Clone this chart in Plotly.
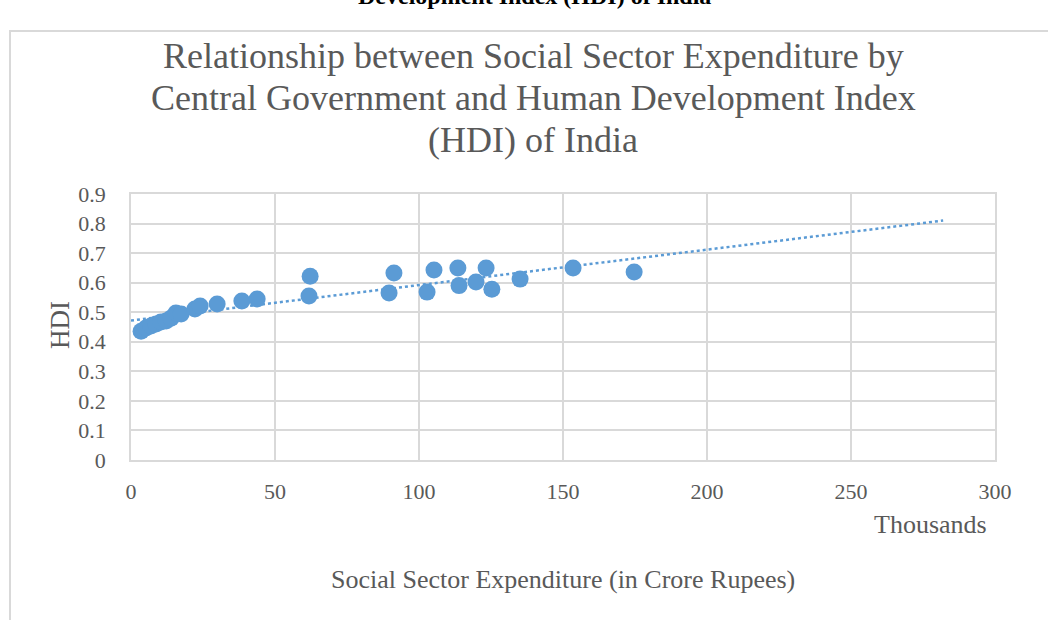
import numpy as np
import plotly.graph_objects as go

# Social sector expenditure (thousand crore rupees) and HDI
expenditure = [3.5, 5.2, 6.9, 8.7, 10.4, 12.2, 13.9, 15.6, 17.4, 22.2, 24.0, 29.9,
               38.5, 43.8, 61.8, 62.2, 89.6, 91.3, 102.8, 105.2, 113.5, 113.9,
               119.8, 123.3, 125.3, 135.1, 153.5, 174.7]
hdi = [0.436, 0.447, 0.453, 0.460, 0.467, 0.470, 0.480, 0.497, 0.494, 0.511, 0.521, 0.528,
       0.538, 0.545, 0.555, 0.622, 0.565, 0.633, 0.568, 0.643, 0.650, 0.590,
       0.602, 0.650, 0.578, 0.612, 0.650, 0.636]
trend_range = [0, 282]
y_ticks = [0, 0.1, 0.2, 0.3, 0.4, 0.5, 0.6, 0.7, 0.8, 0.9]
y_tick_labels = ["0", "0.1", "0.2", "0.3", "0.4", "0.5", "0.6", "0.7", "0.8", "0.9"]
x_ticks = [0, 50, 100, 150, 200, 250, 300]
title_lines = ["Relationship between Social Sector Expenditure by",
               "Central Government and Human Development Index",
               "(HDI) of India"]

slope, intercept = np.polyfit(expenditure, hdi, 1)
trend_x = np.linspace(trend_range[0], trend_range[1], 50)
trend_y = intercept + slope * trend_x

BLUE = "#5b9bd5"
GREY = "#595959"
GRID = "#d9d9d9"
FONT = "Liberation Serif"

fig = go.Figure()
fig.add_trace(go.Scatter(x=trend_x, y=trend_y, mode="lines",
                         line=dict(color=BLUE, width=2.5, dash="dot"),
                         hoverinfo="skip", showlegend=False))
fig.add_trace(go.Scatter(x=expenditure, y=hdi, mode="markers",
                         marker=dict(color=BLUE, size=17, line=dict(width=0)),
                         showlegend=False))

L, R, T, B = 131, 995, 194, 460
W, H = 1048, 620

def px(x):
    return (x - L) / (R - L)

def py(y):
    return (B - y) / (B - T)

annotations = [
    dict(text="<b>Development Index (HDI) of India</b>", xref="paper", yref="paper",
         x=px(534), y=py(11), xanchor="center", yanchor="bottom", showarrow=False,
         font=dict(size=24, color="black", family=FONT)),
    dict(text="HDI", xref="paper", yref="paper", x=px(60), y=py(325), textangle=-90,
         xanchor="center", yanchor="middle", showarrow=False,
         font=dict(size=27, color=GREY, family=FONT)),
    dict(text="Thousands", xref="paper", yref="paper", x=px(930), y=py(524),
         xanchor="center", yanchor="middle", showarrow=False,
         font=dict(size=26, color=GREY, family=FONT)),
    dict(text="Social Sector Expenditure (in Crore Rupees)", xref="paper", yref="paper",
         x=px(563), y=py(579), xanchor="center", yanchor="middle", showarrow=False,
         font=dict(size=26, color=GREY, family=FONT)),
]
for line_text, yc in zip(title_lines, [56, 98, 140]):
    annotations.append(dict(text=line_text, xref="paper", yref="paper", x=px(533), y=py(yc),
                            xanchor="center", yanchor="middle", showarrow=False,
                            font=dict(size=36, color=GREY, family=FONT)))

fig.update_layout(
    width=W, height=H,
    margin=dict(l=L, r=W - R, t=T, b=H - B),
    paper_bgcolor="white", plot_bgcolor="white",
    font=dict(family=FONT, color=GREY),
    xaxis=dict(range=[0, 300], tickvals=x_ticks, showgrid=True, gridcolor=GRID, gridwidth=1.5,
               showline=True, linecolor=GRID, linewidth=1.5, mirror=True, zeroline=False,
               tickfont=dict(size=22, color=GREY, family=FONT), ticks="", ticklabelstandoff=11),
    yaxis=dict(range=[0, 0.9], tickvals=y_ticks, ticktext=y_tick_labels, showgrid=True,
               gridcolor=GRID, gridwidth=1.5, showline=True, linecolor=GRID, linewidth=1.5,
               mirror=True, zeroline=False,
               tickfont=dict(size=22, color=GREY, family=FONT), ticks="", ticklabelstandoff=19),
    shapes=[dict(type="rect", xref="paper", yref="paper",
                 x0=px(10), x1=px(1060), y0=py(640), y1=py(31),
                 line=dict(color=GRID, width=2), fillcolor="rgba(0,0,0,0)", layer="below")],
    annotations=annotations,
)

fig.write_html("out.html")
